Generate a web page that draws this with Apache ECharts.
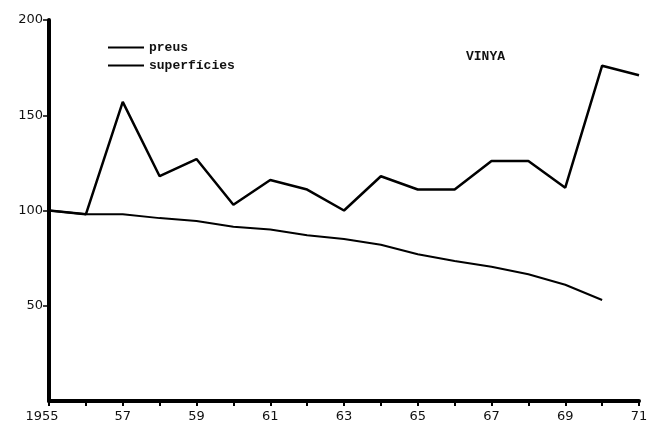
<!DOCTYPE html>
<html>
<head>
<meta charset="utf-8">
<script src="https://cdn.jsdelivr.net/npm/echarts@6/dist/echarts.min.js"></script>
<style>
  html, body { margin: 0; padding: 0; background: #fff; }
  #chart { width: 652px; height: 428px; }
</style>
</head>
<body>
<div id="chart"></div>
<script>
// anys i valors (índex 1955 = 100)
const years = [1955, 1956, 1957, 1958, 1959, 1960, 1961, 1962, 1963, 1964, 1965, 1966, 1967, 1968, 1969, 1970, 1971];
const preus = [100, 98, 157, 118, 127, 103, 116, 111, 100, 118, 111, 111, 126, 126, 112, 176, 171];
const superficies = [100, 98, 98, 96, 94.5, 91.5, 90, 87, 85, 82, 77, 73.5, 70.5, 66.5, 61, 53];
const yTicks = [50, 100, 150, 200];

const chart = echarts.init(document.getElementById('chart'));

const mono = '"Liberation Mono", "DejaVu Sans Mono", monospace';

chart.setOption({
    animation: false,
    backgroundColor: '#fff',
    grid: { left: 49, right: 13, top: 20, bottom: 27 },
    title: {
        text: 'VINYA',
        left: 461, top: 45,
        textStyle: { fontFamily: mono, fontSize: 13, fontWeight: 'bold', color: '#111' }
    },
    legend: {
        orient: 'vertical',
        left: 103, top: 36,
        itemWidth: 36, itemHeight: 10, itemGap: 5,
        icon: 'path://M0,0 L36,0 L36,2 L0,2 Z',
        textStyle: { fontFamily: mono, fontSize: 13, fontWeight: 'bold', color: '#111' },
        data: ['preus', 'superfícies']
    },
    xAxis: {
        type: 'value',
        min: 1955, max: 1971, interval: 1,
        splitLine: { show: false },
        axisLine: { onZero: false, lineStyle: { color: '#000', width: 4 } },
        axisTick: { length: 5, lineStyle: { color: '#000', width: 2 } },
        axisLabel: {
            color: '#111', fontFamily: '"DejaVu Sans", sans-serif', fontSize: 13, margin: 9,
            formatter: v => {
                if (v === 1955) return '{first|1955}';
                if ((v - 1955) % 2 === 0) return String(v).slice(2);
                return '';
            },
            rich: {
                first: { fontFamily: '"DejaVu Sans", sans-serif', fontSize: 13, color: '#111', padding: [0, 14, 0, 0] }
            }
        }
    },
    yAxis: {
        type: 'value',
        min: 0, max: 200, interval: 50,
        splitLine: { show: false },
        axisLine: { show: true, lineStyle: { color: '#000', width: 4 } },
        axisTick: { length: 6, customValues: yTicks, lineStyle: { color: '#000', width: 1.5 } },
        axisLabel: {
            color: '#111', fontFamily: '"DejaVu Sans", sans-serif', fontSize: 13, margin: 6,
            customValues: yTicks
        }
    },
    series: [
        {
            name: 'preus',
            type: 'line',
            data: years.map((y, i) => [y, preus[i]]),
            showSymbol: false,
            lineStyle: { color: '#000', width: 2.5 },
            itemStyle: { color: '#000' }
        },
        {
            name: 'superfícies',
            type: 'line',
            data: superficies.map((v, i) => [years[i], v]),
            showSymbol: false,
            lineStyle: { color: '#000', width: 2 },
            itemStyle: { color: '#000' }
        }
    ]
});
</script>
</body>
</html>
